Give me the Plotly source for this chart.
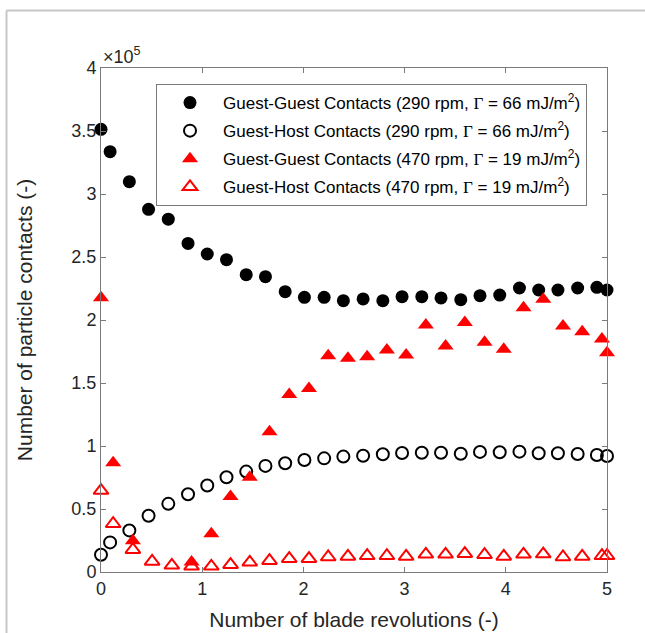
import plotly.graph_objects as go

# ---------------- data ----------------
x_290 = [0, 0.09, 0.28, 0.47, 0.665, 0.86, 1.05, 1.24, 1.435, 1.625, 1.82, 2.01, 2.205, 2.395,
         2.59, 2.785, 2.975, 3.17, 3.36, 3.555, 3.745, 3.94, 4.135, 4.325, 4.515, 4.71, 4.9, 5.0]
x_470 = [0, 0.12, 0.315, 0.505, 0.7, 0.895, 1.09, 1.28, 1.47, 1.665, 1.86, 2.055, 2.245, 2.44,
         2.63, 2.825, 3.015, 3.21, 3.405, 3.595, 3.79, 3.98, 4.175, 4.37, 4.565, 4.755, 4.95, 5.0]

gg_290 = [351300, 333600, 309800, 287800, 280000, 260800, 252400, 247900, 236000, 234400,
          222500, 218000, 218000, 215300, 216700, 215300, 218500, 218500, 217500, 216100,
          219300, 219800, 225400, 223800, 223800, 225400, 225900, 223800]
gh_290 = [13700, 23500, 33000, 44600, 54100, 61700, 68600, 75200, 79700, 84200, 86300, 88900,
          90200, 91600, 92300, 93400, 94500, 94700, 94700, 93900, 95300, 95000, 95500, 94200,
          94200, 93700, 92900, 92100]
gg_470 = [217700, 86800, 24800, None, None, 7900, 30300, 59900, 75200, 111300, 140900, 145600,
          171700, 169600, 170900, 176200, 172200, 196000, 179400, 198100, 182300, 176700,
          209800, 216400, 195200, 190700, 184900, 174100]
gh_470 = [64600, 38300, 17700, 8400, 5300, 4500, 4500, 5800, 7700, 9000, 10600, 10600, 11900,
          12400, 12900, 12900, 12400, 14000, 14000, 14500, 13700, 12400, 14000, 14200, 11900,
          12400, 12900, 12900]

G = "<span style='font-family:Liberation Serif'>Γ</span>"
names = [
    f"Guest-Guest Contacts (290 rpm, {G} = 66 mJ/m<sup>2</sup>)",
    f"Guest-Host Contacts (290 rpm, {G} = 66 mJ/m<sup>2</sup>)",
    f"Guest-Guest Contacts (470 rpm, {G} = 19 mJ/m<sup>2</sup>)",
    f"Guest-Host Contacts (470 rpm, {G} = 19 mJ/m<sup>2</sup>)",
]

y_tickvals = [0, 50000, 100000, 150000, 200000, 250000, 300000, 350000, 400000]
y_ticktext = ["0", "0.5", "1", "1.5", "2", "2.5", "3", "3.5", "4"]
x_tickvals = [0, 1, 2, 3, 4, 5]

# ---------------- figure ----------------
W, H = 645, 633
L, R, T, B = 101, 38, 68, 61
pw, ph = W - L - R, H - T - B

fig = go.Figure()
fig.add_trace(go.Scatter(x=x_290, y=gg_290, mode="markers", name=names[0], legendgroup="a",
                         marker=dict(symbol="circle", size=13, color="black"), cliponaxis=False))
fig.add_trace(go.Scatter(x=x_290, y=gh_290, mode="markers", name=names[1], legendgroup="b",
                         marker=dict(symbol="circle-open", size=12, color="black",
                                     line=dict(width=2, color="black")), cliponaxis=False))
fig.add_trace(go.Scatter(x=x_470, y=gg_470, mode="markers", name=names[2], legendgroup="c",
                         marker=dict(symbol="triangle-up", size=14, color="red"), cliponaxis=False))
fig.add_trace(go.Scatter(x=x_470, y=gh_470, mode="markers", name=names[3], legendgroup="d",
                         marker=dict(symbol="triangle-up-open", size=13, color="red",
                                     line=dict(width=2, color="red")), cliponaxis=False))

axis_common = dict(showline=True, linecolor="#7a7a7a", linewidth=1, mirror="ticks",
                   ticks="inside", ticklen=5, tickcolor="#7a7a7a", showgrid=False,
                   zeroline=False, automargin=False, tickfont=dict(size=18, color="#262626"))

fig.update_xaxes(range=[0, 5], tickvals=x_tickvals,
                 title=dict(text="Number of blade revolutions (-)", font=dict(size=21, color="#262626"),
                            standoff=14),
                 **axis_common)
fig.update_yaxes(range=[0, 400000], tickvals=y_tickvals, ticktext=y_ticktext,
                 title=dict(text="Number of particle contacts (-)", font=dict(size=21, color="#262626"),
                            standoff=33),
                 **axis_common)

fig.add_annotation(xref="paper", yref="paper", x=0, y=1, xanchor="left", yanchor="bottom",
                   yshift=-1, xshift=0, showarrow=False,
                   text="×10<sup>5</sup>", font=dict(size=18, color="#262626"))

# outer frame lines (light gray) at top and left
fig.add_shape(type="line", xref="paper", yref="paper",
              x0=(6.5 - L) / pw, x1=(W - L) / pw, y0=(H - B - 10.5) / ph, y1=(H - B - 10.5) / ph,
              line=dict(color="#c8c8c8", width=2))
fig.add_shape(type="line", xref="paper", yref="paper",
              x0=(6.5 - L) / pw, x1=(6.5 - L) / pw, y0=(H - B - 10.5) / ph, y1=-(B + 5) / ph,
              line=dict(color="#c8c8c8", width=2))

fig.update_layout(
    width=W, height=H,
    margin=dict(l=L, r=R, t=T, b=B, pad=0, autoexpand=False),
    paper_bgcolor="white", plot_bgcolor="white",
    font=dict(family="Liberation Sans, Arial, sans-serif", color="#262626"),
    legend=dict(x=(156 - L) / pw, y=(H - B - 84) / ph, xanchor="left", yanchor="top",
                bordercolor="#7a7a7a", borderwidth=1, bgcolor="white",
                font=dict(size=17, color="black"), tracegroupgap=3, itemwidth=56),
    showlegend=True,
)

fig.write_html("out.html")
